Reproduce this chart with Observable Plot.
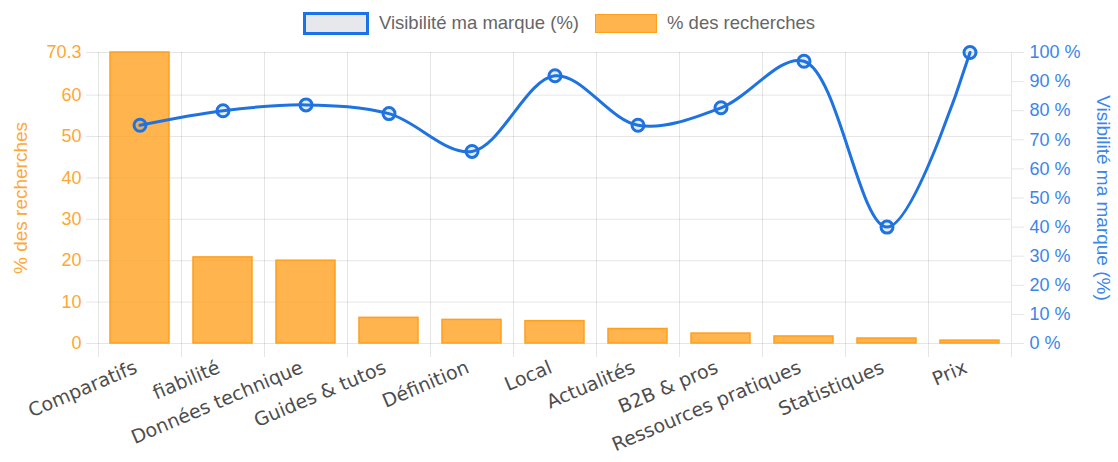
<!DOCTYPE html>
<html>
<head>
<meta charset="utf-8">
<script src="https://cdn.jsdelivr.net/npm/d3@7"></script>
<script src="https://cdn.jsdelivr.net/npm/@observablehq/plot@0.6"></script>
<style>
  html, body { margin: 0; padding: 0; background: #fff; overflow: hidden; }
  #legend { height: 40px; width: 1118px; display: flex; justify-content: center; align-items: center; padding-top: 6px; box-sizing: border-box;
    font-family: "Liberation Sans", Arial, sans-serif; font-size: 18.5px; color: #666; }
  .box { display: inline-block; width: 60px; height: 17px; box-sizing: content-box; }
  .lab { margin-left: 10px; margin-right: 16px; }
</style>
</head>
<body>
<div id="legend">
  <span class="box" style="background:#e6e8ec;border:3px solid #1a73e8;"></span><span class="lab">Visibilité ma marque (%)</span>
  <span class="box" style="background:rgba(255,159,28,0.78);border:1.5px solid #ff9f1c;"></span><span class="lab" style="margin-right:0">% des recherches</span>
</div>
<div id="chart"></div>
<script>
const categories = ["Comparatifs", "fiabilité", "Données technique", "Guides & tutos", "Définition", "Local", "Actualités", "B2B & pros", "Ressources pratiques", "Statistiques", "Prix"];
const searches = [70.3, 20.8, 20.0, 6.2, 5.7, 5.4, 3.5, 2.4, 1.7, 1.2, 0.7];
const visibility = [75, 80, 82, 79, 66, 92, 75, 81, 97, 40, 100];
const searchTicks = [0, 10, 20, 30, 40, 50, 60, 70.3];
const visTicks = [0, 10, 20, 30, 40, 50, 60, 70, 80, 90, 100];

const W = 1118, H = 422, ML = 98, MR = 107, MT = 12, MB = 119;
const step = (W - ML - MR) / categories.length;
const leftMax = searchTicks[searchTicks.length - 1];
const toLeft = v => v * leftMax / 100;

const data = categories.map((c, i) => ({cat: c, search: searches[i], vis: toLeft(visibility[i])}));

const grid = {stroke: "#000", strokeOpacity: 0.1};
const orange = "#ffa733", blue = "#1f73e0", blueText = "#3b86e8";

const chart = Plot.plot({
  width: W, height: H,
  marginLeft: ML, marginRight: MR, marginTop: MT, marginBottom: MB,
  style: {fontFamily: "'Liberation Sans', Arial, sans-serif", fontSize: "18px", background: "#fff"},
  x: {domain: categories, paddingInner: 0.29, paddingOuter: 0.145, label: null},
  y: {domain: [0, leftMax], label: null},
  marks: [
    Plot.gridY(searchTicks, grid),
    Plot.ruleX(categories, {x: d => d, dx: -step / 2, insetBottom: -14, ...grid}),
    Plot.ruleX(categories.slice(-1), {x: d => d, dx: step / 2, insetBottom: -14, ...grid}),
    Plot.barY(data, {x: "cat", y: "search", fill: "rgba(255,159,28,0.78)", stroke: "#ff9f1c", strokeWidth: 1.5}),
    Plot.line(data, {x: "cat", y: "vis", curve: "catmull-rom", stroke: blue, strokeWidth: 3}),
    Plot.dot(data, {x: "cat", y: "vis", r: 6, stroke: blue, strokeWidth: 3, fill: "rgba(31,115,224,0.12)"}),
    Plot.axisY(searchTicks, {anchor: "left", tickSize: 12, tickPadding: 5, stroke: "#000", strokeOpacity: 0.1, fill: orange, tickFormat: d => String(d), fontSize: 18, label: null}),
    Plot.axisY(visTicks.map(toLeft), {anchor: "right", tickSize: 12, tickPadding: 6, stroke: "#000", strokeOpacity: 0.1, fill: blueText, tickFormat: d => Math.round(d * 100 / leftMax) + " %", fontSize: 18, label: null}),
    Plot.axisX({tickSize: 0, tickPadding: 23, tickRotate: -23, textAnchor: "end", lineAnchor: "middle", dx: -4, fill: "#4d4d4d", fontFamily: "'DejaVu Sans', sans-serif", fontSize: 19, label: null}),
    Plot.text(["% des recherches"], {frameAnchor: "left", dx: -78, rotate: -90, textAnchor: "middle", fill: orange, fontSize: 19}),
    Plot.text(["Visibilité ma marque (%)"], {frameAnchor: "right", dx: 92, rotate: 90, textAnchor: "middle", fill: blueText, fontSize: 19})
  ]
});
document.getElementById("chart").appendChild(chart);
</script>
</body>
</html>
